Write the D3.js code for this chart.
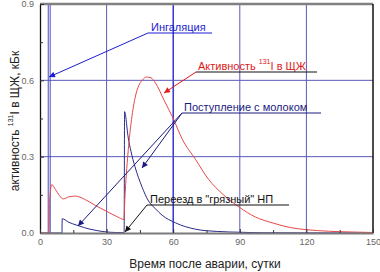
<!DOCTYPE html>
<html>
<head>
<meta charset="utf-8">
<script src="https://cdn.jsdelivr.net/npm/d3@7"></script>
<style>
  body { margin: 0; background: #fff; }
  svg text { font-family: Arial, "Liberation Sans", sans-serif; }
</style>
</head>
<body>
<div id="chart"></div>
<script>
// activity of 131I in thyroid (red)
var redDays = [0, 4.1, 4.3, 5.3, 7, 10.5, 13, 16, 20, 25, 30, 35, 37.8, 38.2, 39.6, 41, 42.8, 44.5, 46, 48, 50, 52, 56, 60, 64, 70, 76, 82, 90, 97, 105, 113, 120, 130, 140, 150];
var redVals = [0, 0, 0.12, 0.19, 0.17, 0.134, 0.142, 0.145, 0.133, 0.108, 0.085, 0.063, 0.053, 0.13, 0.31, 0.43, 0.53, 0.58, 0.60, 0.613, 0.61, 0.59, 0.52, 0.45, 0.37, 0.29, 0.21, 0.155, 0.10, 0.063, 0.039, 0.021, 0.013, 0.007, 0.004, 0.002];
// intake with milk (navy)
var milkDays = [0, 9.9, 10, 13, 16.5, 20, 22.5, 26, 30, 34, 37.9, 38.1, 39.7, 41, 42.8, 46, 48.6, 52, 55, 61, 70, 80, 90, 100, 150];
var milkVals = [0, 0, 0.056, 0.042, 0.031, 0.021, 0.015, 0.009, 0.004, 0.002, 0.001, 0.477, 0.377, 0.32, 0.26, 0.18, 0.13, 0.095, 0.07, 0.04, 0.015, 0.006, 0.003, 0.001, 0];
// inhalation pulse (goes off the top)
var inhDays = [3.7, 3.75, 4.55, 4.6];
var inhVals = [0, 2, 2, 0];

var xTicks = [0, 30, 60, 90, 120, 150];
var yTicks = [0, 0.3, 0.6, 0.9];

var W = 380, H = 272;
var margin = {top: 4, right: 7, bottom: 39, left: 40};

var svg = d3.select("#chart").append("svg")
    .attr("width", W)
    .attr("height", H);

var x = d3.scaleLinear().domain([0, 150]).range([margin.left, W - margin.right]);
var y = d3.scaleLinear().domain([0, 0.9]).range([H - margin.bottom, margin.top]);

svg.append("defs").append("clipPath").attr("id", "clip")
  .append("rect")
    .attr("x", x(0)).attr("y", y(0.9))
    .attr("width", x(150) - x(0)).attr("height", y(0) - y(0.9));

// grid
var grid = svg.append("g");
grid.selectAll("line.vx")
    .data([30, 90, 120])
    .enter().append("line")
    .attr("x1", function(d){ return x(d); }).attr("x2", function(d){ return x(d); })
    .attr("y1", y(0)).attr("y2", y(0.9))
    .attr("stroke", "#5a5ab8").attr("stroke-width", 1);
grid.append("line")
    .attr("x1", x(60)).attr("x2", x(60))
    .attr("y1", y(0)).attr("y2", y(0.9))
    .attr("stroke", "#1818c8").attr("stroke-width", 1.3);
grid.selectAll("line.hy")
    .data([0.3, 0.6])
    .enter().append("line")
    .attr("x1", x(0)).attr("x2", x(150))
    .attr("y1", function(d){ return y(d); }).attr("y2", function(d){ return y(d); })
    .attr("stroke", "#5a5ab8").attr("stroke-width", 1);

// curves
function series(ds, vs){
    return ds.map(function(d, i){ return [d, vs[i]]; });
}
var line = d3.line()
    .x(function(d){ return x(d[0]); })
    .y(function(d){ return y(d[1]); })
    .curve(d3.curveMonotoneX);
var lineStraight = d3.line()
    .x(function(d){ return x(d[0]); })
    .y(function(d){ return y(d[1]); });

var plot = svg.append("g").attr("clip-path", "url(#clip)");

plot.append("path")
    .attr("d", lineStraight(series(inhDays, inhVals)))
    .attr("fill", "none").attr("stroke", "#4a4ac0").attr("stroke-width", 1);

plot.append("path")
    .attr("d", line(series(milkDays, milkVals)))
    .attr("fill", "none").attr("stroke", "#2a2a8a").attr("stroke-width", 1);

plot.append("path")
    .attr("d", line(series(redDays, redVals)))
    .attr("fill", "none").attr("stroke", "#e84848").attr("stroke-width", 1);

// frame
svg.append("line")
    .attr("x1", x(0)).attr("x2", x(150)).attr("y1", y(0.9)).attr("y2", y(0.9))
    .attr("stroke", "#808080").attr("stroke-width", 2.5);
svg.append("line")
    .attr("x1", x(150)).attr("x2", x(150)).attr("y1", y(0.9)).attr("y2", y(0))
    .attr("stroke", "#111").attr("stroke-width", 1.5);

// axes
var yAxis = svg.append("g")
    .attr("transform", "translate(" + x(0) + ",0)")
    .call(d3.axisLeft(y).tickValues(yTicks).tickFormat(d3.format(".1f")).tickSizeInner(-4).tickSizeOuter(0).tickPadding(6));
svg.append("g")
    .attr("transform", "translate(" + x(0) + ",0)")
    .call(d3.axisLeft(y).tickValues([0.15, 0.45, 0.75]).tickFormat("").tickSizeInner(-3).tickSizeOuter(0))
    .select(".domain").remove();

var xAxis = svg.append("g")
    .attr("transform", "translate(0," + y(0) + ")")
    .call(d3.axisBottom(x).tickValues(xTicks).tickFormat(d3.format("d")).tickSizeInner(-4).tickSizeOuter(0).tickPadding(6));
svg.append("g")
    .attr("transform", "translate(0," + y(0) + ")")
    .call(d3.axisBottom(x).tickValues([15, 45, 75, 105, 135]).tickFormat("").tickSizeInner(-3).tickSizeOuter(0))
    .select(".domain").remove();

yAxis.select(".domain").attr("stroke", "#111").attr("stroke-width", 1.3);
xAxis.select(".domain").attr("stroke", "#7a7a7a").attr("stroke-width", 2.2);
svg.selectAll(".tick line").attr("stroke", "#333");
svg.selectAll(".tick text").attr("fill", "#666").attr("font-size", 9)
    .style("font-family", "Arial, 'Liberation Sans', sans-serif");

// axis titles
svg.append("text")
    .attr("x", 205).attr("y", 268)
    .attr("text-anchor", "middle")
    .attr("font-size", 12).attr("fill", "#222")
    .text("Время после аварии, сутки");

var yt = svg.append("text")
    .attr("transform", "translate(19,121) rotate(-90)")
    .attr("text-anchor", "middle")
    .attr("font-size", 12).attr("fill", "#222");
yt.append("tspan").text("активность ");
yt.append("tspan").attr("font-size", 7).attr("dy", -6).text("131");
yt.append("tspan").attr("dy", 6).text("I в ЩЖ, кБк");

// arrow markers
var defs = svg.select("defs");
function marker(id, color){
    defs.append("marker").attr("id", id)
        .attr("viewBox", "0 0 10 10").attr("refX", 10).attr("refY", 5)
        .attr("markerWidth", 8).attr("markerHeight", 6)
        .attr("markerUnits", "userSpaceOnUse")
        .attr("orient", "auto")
      .append("path").attr("d", "M0,0 L10,5 L0,10 Z").attr("fill", color);
}
marker("a-blue", "#1c1cd0");
marker("a-red", "#e02020");
marker("a-navy", "#1a1a80");
marker("a-black", "#111");

function arrow(x1, y1, x2, y2, color, id){
    svg.append("line")
        .attr("x1", x1).attr("y1", y1).attr("x2", x2).attr("y2", y2)
        .attr("stroke", color).attr("stroke-width", 1)
        .attr("marker-end", "url(#" + id + ")");
}
function label(tx, ty, str, color, ulColor, ulx1, ulx2){
    var t = svg.append("text").attr("x", tx).attr("y", ty)
        .attr("font-size", 11).attr("fill", color);
    svg.append("line")
        .attr("x1", ulx1).attr("x2", ulx2).attr("y1", ty + 2).attr("y2", ty + 2)
        .attr("stroke", ulColor).attr("stroke-width", 1);
    return t;
}

// annotations
label(151, 31, null, "#1c1cd0", "#1c1cd0", 148, 212).text("Ингаляция");
arrow(148, 33, 49, 77, "#1c1cd0", "a-blue");

var ta = label(198, 70, null, "#e01818", "#111", 196, 317);
ta.append("tspan").text("Активность ");
ta.append("tspan").attr("font-size", 7).attr("dy", -6).text("131");
ta.append("tspan").attr("dy", 6).text("I в ЩЖ");
arrow(196, 72, 164, 93, "#e01818", "a-red");

label(184, 111, null, "#1a1a80", "#1a1a80", 182, 321).text("Поступление с молоком");
arrow(182, 113, 78, 226, "#1a1a80", "a-navy");
arrow(182, 113, 142, 168, "#1a1a80", "a-navy");

label(150, 203, null, "#111", "#111", 147, 289).text("Переезд в \"грязный\" НП");
arrow(147, 205, 125, 232, "#111", "a-black");
</script>
</body>
</html>
